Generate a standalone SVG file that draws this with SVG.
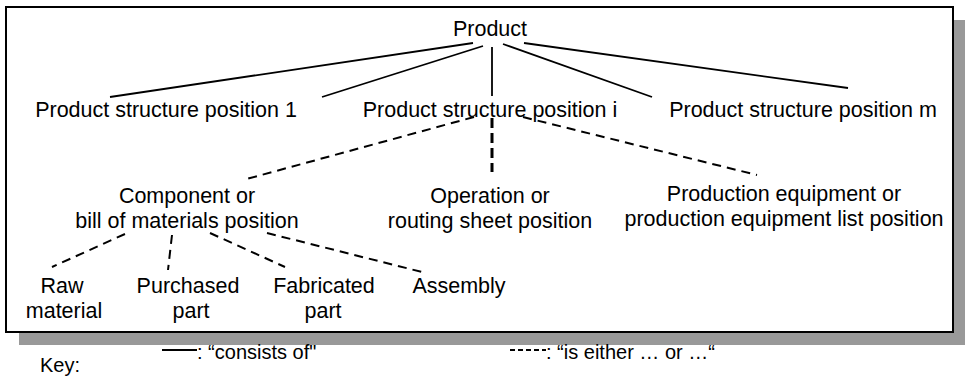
<svg xmlns="http://www.w3.org/2000/svg" width="965" height="377" viewBox="0 0 965 377">
<style>
text{font-family:"Liberation Sans",Arial,sans-serif;font-size:21.5px;fill:#000;text-anchor:middle}
.key{font-size:20px;text-anchor:start}
.s{stroke:#000;stroke-width:1.8;fill:none}
.d{stroke:#000;stroke-width:2;fill:none;stroke-dasharray:9 6}
.dv{stroke:#000;stroke-width:3;fill:none;stroke-dasharray:10 5}
</style>
<rect x="0" y="0" width="965" height="377" fill="#fff"/>
<rect x="19" y="20" width="947" height="325" fill="#999"/>
<rect x="6" y="7" width="947" height="325" fill="#fff" stroke="#000" stroke-width="2"/>
<g id="connectors">
<line class="s" x1="473" y1="43" x2="110" y2="97"/>
<line class="s" x1="483" y1="46" x2="322" y2="97"/>
<line class="s" x1="492" y1="47" x2="492" y2="96"/>
<line class="s" x1="503" y1="44" x2="652" y2="97"/>
<line class="s" x1="524" y1="43" x2="848" y2="88"/>
<line class="d" x1="474" y1="117" x2="243" y2="180"/>
<line class="dv" x1="492" y1="118" x2="492" y2="172"/>
<line class="d" x1="523" y1="117" x2="757" y2="175"/>
<line class="d" x1="125" y1="234" x2="52" y2="267"/>
<line class="d" x1="172" y1="235" x2="168" y2="270"/>
<line class="d" x1="210" y1="233" x2="285" y2="267"/>
<line class="d" x1="267" y1="233" x2="422" y2="272"/>
</g>
<g id="product"><text x="490" y="36">Product</text></g>
<g id="pos1"><text x="166" y="117">Product structure position 1</text></g>
<g id="posi"><text x="490" y="117">Product structure position i</text></g>
<g id="posm"><text x="803" y="117">Product structure position m</text></g>
<g id="component"><text x="187" y="203">Component or</text><text x="187" y="228">bill of materials position</text></g>
<g id="operation"><text x="490" y="203">Operation or</text><text x="490" y="228">routing sheet position</text></g>
<g id="equipment"><text x="784" y="201">Production equipment or</text><text x="784" y="226">production equipment list position</text></g>
<g id="raw"><text x="62" y="293">Raw</text><text x="64" y="318">material</text></g>
<g id="purchased"><text x="188" y="293">Purchased</text><text x="191" y="318">part</text></g>
<g id="fabricated"><text x="324" y="293">Fabricated</text><text x="323" y="318">part</text></g>
<g id="assembly"><text x="459" y="293">Assembly</text></g>
<g id="key">
<text class="key" x="40" y="372">Key:</text>
<line class="s" x1="162" y1="350" x2="197" y2="350"/>
<text class="key" x="197" y="359">:  “consists of"</text>
<line class="d" x1="510" y1="350" x2="546" y2="350" style="stroke-dasharray:5 3"/>
<text class="key" x="546" y="359">: “is either … or …“</text>
</g>
</svg>
